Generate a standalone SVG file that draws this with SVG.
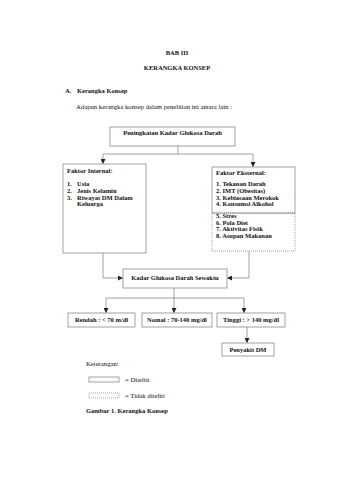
<svg xmlns="http://www.w3.org/2000/svg" width="339" height="480" viewBox="0 0 339 480">
<style>
text{font-family:"Liberation Serif","Times New Roman",serif;font-size:6.7px;fill:#111}
.b{font-weight:bold;font-size:6.5px}
.c{text-anchor:middle}
.box{fill:#fff;stroke:#8a8a8a;stroke-width:0.8}
.dot{fill:#fff;stroke:#8a8a8a;stroke-width:0.8;stroke-dasharray:1 1}
.ln{fill:none;stroke:#8a8a8a;stroke-width:0.8}
</style>
<defs>
<marker id="ah" viewBox="0 0 6 6" refX="6" refY="3" markerWidth="5" markerHeight="5" orient="auto" markerUnits="userSpaceOnUse">
<path d="M0,0 L6,3 L0,6 z" fill="#222"/>
</marker>
</defs>
<rect width="339" height="480" fill="#fff"/>
<g id="header">
<text class="b c" x="177" y="55">BAB III</text>
<text class="b c" x="177" y="70">KERANGKA KONSEP</text>
<text class="b" x="65" y="93">A.</text>
<text class="b" x="77" y="93">Kerangka Konsep</text>
<text x="76" y="109">Adapun kerangka konsep dalam penelitian ini antara lain :</text>
</g>
<g id="connectors">
<path class="ln" d="M178,146 V154 M103,154 H253"/>
<path class="ln" d="M103,154 V164" marker-end="url(#ah)"/>
<path class="ln" d="M253,154 V167" marker-end="url(#ah)"/>
<path class="ln" d="M103,253 V278 H123" marker-end="url(#ah)"/>
<path class="ln" d="M249,251 V278 H227" marker-end="url(#ah)"/>
<path class="ln" d="M174,288 V298 M106,298 H244"/>
<path class="ln" d="M106,298 V313" marker-end="url(#ah)"/>
<path class="ln" d="M174,298 V313" marker-end="url(#ah)"/>
<path class="ln" d="M244,298 V313" marker-end="url(#ah)"/>
<path class="ln" d="M247,327 V343" marker-end="url(#ah)"/>
</g>
<g id="node-peningkatan">
<rect class="box" x="110" y="127" width="125" height="19"/>
<text class="b c" x="172.5" y="135">Peningkatan Kadar Glukosa Darah</text>
</g>
<g id="node-internal">
<rect class="box" x="63" y="164" width="83" height="89"/>
<text class="b" x="67" y="173">Faktor Internal:</text>
<text class="b" x="67" y="186">1.</text><text class="b" x="77" y="186">Usia</text>
<text class="b" x="67" y="193">2.</text><text class="b" x="77" y="193">Jenis Kelamin</text>
<text class="b" x="67" y="199.5">3.</text><text class="b" x="77" y="199.5">Riwayat DM Dalam</text>
<text class="b" x="77" y="206">Keluarga</text>
</g>
<g id="node-eksternal">
<rect class="dot" x="212" y="213" width="83" height="38"/>
<rect class="box" x="212" y="167" width="83" height="46"/>
<line x1="212" y1="213" x2="295" y2="213" stroke="#8a8a8a" stroke-width="0.8" stroke-dasharray="1 1"/>
<text class="b" x="216" y="175">Faktor Eksternal:</text>
<text class="b" x="216" y="186">1. Tekanan Darah</text>
<text class="b" x="216" y="193">2. IMT (Obesitas)</text>
<text class="b" x="216" y="199.5">3. Kebiasaan Merokok</text>
<text class="b" x="216" y="206">4. Konsumsi  Alkohol</text>
<text class="b" x="216" y="218">5. Stres</text>
<text class="b" x="216" y="224.5">6. Pola Diet</text>
<text class="b" x="216" y="231">7. Aktivitas Fisik</text>
<text class="b" x="216" y="238">8. Asupan Makanan</text>
</g>
<g id="node-kadar">
<rect class="box" x="123" y="269" width="104" height="19"/>
<text class="b c" x="175" y="280">Kadar Glukosa Darah Sewaktu</text>
</g>
<g id="node-rendah">
<rect class="box" x="68" y="313" width="67" height="14"/>
<text class="b c" x="101.5" y="322">Rendah : &lt; 70 m/dl</text>
</g>
<g id="node-normal">
<rect class="box" x="142" y="313" width="70" height="14"/>
<text class="b c" x="177" y="322">Nomal : 70-140 mg/dl</text>
</g>
<g id="node-tinggi">
<rect class="box" x="217" y="313" width="68" height="14"/>
<text class="b c" x="251" y="322">Tinggi : &gt; 140 mg/dl</text>
</g>
<g id="node-penyakit">
<rect class="box" x="222" y="343" width="52" height="13"/>
<text class="b c" x="248" y="351.5">Penyakit DM</text>
</g>
<g id="legend">
<text x="86" y="366">Keterangan:</text>
<rect class="box" x="89" y="377" width="30" height="5"/>
<text x="125" y="382">= Diteliti</text>
<rect class="dot" x="89" y="393" width="30" height="5"/>
<text x="125" y="398">= Tidak diteliti</text>
<text class="b" x="86" y="413">Gambar 1. Kerangka Konsep</text>
</g>
</svg>
